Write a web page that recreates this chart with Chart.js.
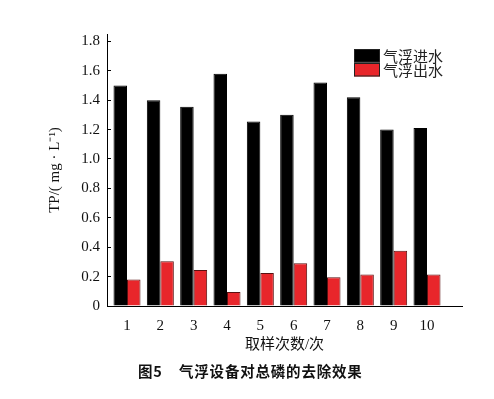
<!doctype html>
<html lang="zh">
  <head>
    <meta charset="utf-8">
    <title>气浮设备对总磷的去除效果</title>
    <style>
      * {
        margin: 0;
        padding: 0;
      }
      body {
        width: 494px;
        height: 399px;
        background: #fff;
        position: relative;
        overflow: hidden;
      }
      .chartBox {
        position: absolute;
        left: 0;
        top: 0;
        width: 494px;
        height: 399px;
      }
      .caption {
        position: absolute;
        left: 138px;
        top: 360px;
        font-family: "Noto Sans CJK SC", sans-serif;
        font-weight: bold;
        font-size: 14.5px;
        letter-spacing: 0.8px;
        white-space: pre;
        color: #111;
      }
    </style>
  </head>
  <body>
    <div class="chartBox">
      <canvas id="myChart" width="494" height="399"></canvas>
    </div>
    <div class="caption">图5    气浮设备对总磷的去除效果</div>

    <script src="https://cdn.jsdelivr.net/npm/chart.js/dist/chart.umd.min.js"></script>
    <script>
    // data
    const samples = ['1', '2', '3', '4', '5', '6', '7', '8', '9', '10'];
    const inflow = [1.50, 1.40, 1.355, 1.58, 1.255, 1.30, 1.52, 1.42, 1.20, 1.21];
    const outflow = [0.18, 0.305, 0.245, 0.095, 0.225, 0.29, 0.195, 0.215, 0.375, 0.215];
    const yTicks = [0, 0.2, 0.4, 0.6, 0.8, 1.0, 1.2, 1.4, 1.6, 1.8];
    const seriesNames = ['气浮进水', '气浮出水'];

    const serif = '"Liberation Serif", "Noto Sans CJK SC", serif';

    // legend sits inside the plot, top right
    const innerLegend = {
      id: 'innerLegend',
      afterDraw(chart) {
        const ctx = chart.ctx;
        const area = chart.chartArea;
        const x = area.right - 108;
        let y = area.top + 15;
        ctx.save();
        ctx.font = '15px "Noto Sans CJK SC", sans-serif';
        ctx.textBaseline = 'middle';
        chart.data.datasets.forEach((ds) => {
          ctx.fillStyle = ds.backgroundColor;
          ctx.fillRect(x, y, 26, 13.5);
          ctx.strokeStyle = '#222';
          ctx.lineWidth = 1;
          ctx.strokeRect(x + 0.5, y + 0.5, 25, 12.5);
          ctx.fillStyle = '#222';
          ctx.fillText(ds.label, x + 29, y + 7);
          y += 14;
        });
        ctx.restore();
      }
    };

    const data = {
      datasets: [{
        label: seriesNames[0],
        data: samples.map((s, i) => ({ x: i + 1, y: inflow[i] })),
        backgroundColor: '#000000',
        borderColor: '#000000',
        borderWidth: 1
      }, {
        label: seriesNames[1],
        data: samples.map((s, i) => ({ x: i + 1, y: outflow[i] })),
        backgroundColor: '#e8262b',
        borderColor: '#5a1010',
        borderWidth: 1
      }]
    };

    const config = {
      type: 'bar',
      data,
      options: {
        responsive: false,
        animation: false,
        categoryPercentage: 0.81,
        barPercentage: 1,
        layout: {
          padding: { left: 40, right: 32, top: 34, bottom: 44 }
        },
        plugins: {
          legend: { display: false },
          tooltip: { enabled: false }
        },
        scales: {
          x: {
            type: 'linear',
            min: 0.4,
            max: 11.05,
            offset: false,
            afterBuildTicks(scale) {
              scale.ticks = samples.map((s, i) => ({ value: i + 1 }));
            },
            afterFit(scale) {
              scale.height = 49;
            },
            grid: { display: false },
            border: { display: true, color: '#000', width: 1 },
            ticks: {
              autoSkip: false,
              maxRotation: 0,
              padding: 3,
              color: '#111',
              font: { family: serif, size: 15 },
              callback: (v) => samples[v - 1]
            },
            title: {
              display: true,
              text: '取样次数/次',
              color: '#111',
              padding: { top: 0, bottom: 1 },
              font: { family: serif, size: 15 }
            }
          },
          y: {
            min: 0,
            max: 1.85,
            afterBuildTicks(scale) {
              scale.ticks = yTicks.map((v) => ({ value: v }));
            },
            afterFit(scale) {
              scale.width = 67;
            },
            grid: {
              drawOnChartArea: false,
              drawTicks: true,
              tickLength: -4,
              color: '#000'
            },
            border: { display: true, color: '#000', width: 1 },
            ticks: {
              padding: 11,
              color: '#111',
              font: { family: serif, size: 15 },
              callback: (v) => (v === 0 ? '0' : v.toFixed(1))
            },
            title: {
              display: true,
              text: 'TP/( mg · L⁻¹)',
              color: '#111',
              padding: { top: 6, bottom: 0 },
              font: { family: serif, size: 15 }
            }
          }
        }
      },
      plugins: [innerLegend]
    };

    const myChart = new Chart(document.getElementById('myChart'), config);
    </script>
  </body>
</html>
